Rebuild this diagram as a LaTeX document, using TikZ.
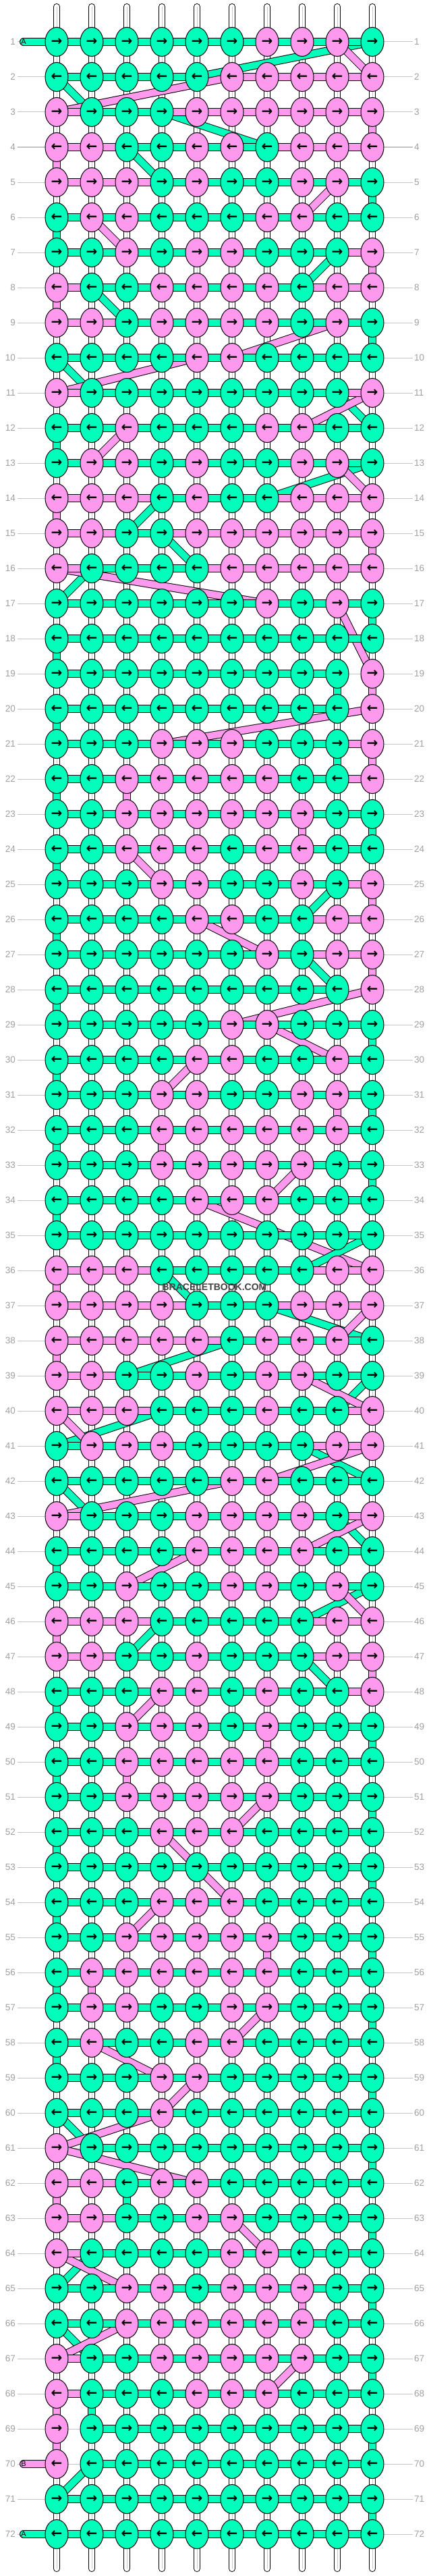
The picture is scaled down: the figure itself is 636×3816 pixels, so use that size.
\documentclass[tikz,border=0pt]{standalone}
\usepackage{fontspec}
\setsansfont{Liberation Sans}
\newfontfamily\arrowfont{DejaVu Sans}
\usepackage{tikz}
\usetikzlibrary{shapes.geometric}
\usetikzlibrary{positioning}

\definecolor{kG}{HTML}{00FFBB}
\definecolor{kP}{HTML}{FF99EE}
\definecolor{rowline}{HTML}{C4C4C4}
\definecolor{numgray}{HTML}{A0A0A0}
\newcommand\rarr{→}
\newcommand\larr{←}

\pgfdeclarelayer{bg}
\pgfdeclarelayer{cross}
\pgfdeclarelayer{bars}
\pgfsetlayers{bg,cross,bars,main}

\begin{document}
\begin{tikzpicture}[x=1pt,y=-1pt,
  knot/.style={ellipse,draw,line width=1pt,minimum width=34pt,minimum height=43pt,inner sep=0pt,
    font=\arrowfont\bfseries\fontsize{20}{20}\selectfont},
  strand/.style={draw=black,line width=12pt,postaction={draw=#1,line width=10pt}},
  tube/.style={draw=black,line width=10pt,line cap=round,
    postaction={draw=white,line width=8pt},postaction={draw=black!22,line width=1pt}},
  guide/.style={draw=rowline,line width=1pt},
  numlbl/.style={text=numgray,inner sep=2.5pt,font=\sffamily\fontsize{13.5}{14}\selectfont},
  endlbl/.style={inner sep=0pt,font=\sffamily\fontsize{11}{11}\selectfont},
  wmark/.style={text=black!75,font=\sffamily\bfseries\fontsize{14}{14}\selectfont}]

  \useasboundingbox (0,0) rectangle (636,3816);
  \begin{pgfonlayer}{bg}
    \fill[white] (0,0) rectangle (636,3816);
  \end{pgfonlayer}

  \foreach \kr/\kn/\kb in {
    1/{G,G,G,G,G,G,P,P,P,G}/{G,G,G,G,G,G,G,G,G},
    2/{G,G,G,G,G,P,P,P,P,P}/{G,G,G,G,-,P,P,P,P},
    3/{P,G,G,G,P,P,P,P,P,P}/{P,G,G,P,P,P,P,P,P},
    4/{P,P,G,G,P,P,G,P,P,P}/{P,P,G,G,G,G,P,P,P},
    5/{P,P,P,G,P,G,G,P,P,G}/{P,P,P,G,G,G,G,G,G},
    6/{G,P,P,G,G,G,P,P,G,G}/{G,G,G,G,G,G,G,G,G},
    7/{G,G,P,G,P,P,G,G,G,P}/{G,G,G,G,G,G,G,G,P},
    8/{P,G,G,P,P,P,P,G,P,P}/{P,G,G,G,G,G,G,P,P},
    9/{P,P,G,P,P,P,P,G,P,G}/{P,P,G,G,G,G,G,G,G},
    10/{G,G,G,G,P,P,G,G,G,G}/{G,G,G,G,G,G,G,G,G},
    11/{P,G,G,G,G,G,G,G,G,P}/{P,G,G,G,G,G,G,G,P},
    12/{G,G,P,G,G,G,P,P,G,G}/{G,G,G,G,G,G,G,G,G},
    13/{G,P,P,G,P,G,G,P,P,G}/{G,G,G,G,G,G,G,G,G},
    14/{P,P,P,G,P,G,G,P,P,P}/{P,P,P,G,G,G,P,P,P},
    15/{P,P,G,G,P,P,P,P,P,P}/{P,P,G,P,P,P,P,P,P},
    16/{P,G,G,G,G,P,P,P,P,P}/{P,G,G,G,P,P,P,P,P},
    17/{G,G,G,G,G,G,P,G,P,G}/{G,G,G,G,G,G,G,G,G},
    18/{G,G,G,G,G,G,G,G,G,G}/{G,G,G,G,G,G,G,G,G},
    19/{G,G,G,G,G,G,G,G,G,P}/{G,G,G,G,G,G,G,G,-},
    20/{G,G,G,G,G,G,G,G,G,P}/{G,G,G,G,G,G,G,G,-},
    21/{G,G,G,P,P,P,G,G,G,P}/{G,G,G,G,G,G,G,G,P},
    22/{G,G,P,P,P,P,P,G,G,P}/{G,G,G,G,G,G,G,G,P},
    23/{G,G,P,P,P,P,P,P,G,G}/{G,G,G,G,G,G,G,G,G},
    24/{G,G,P,P,P,G,P,P,G,G}/{G,G,G,G,G,G,G,G,G},
    25/{G,G,G,P,P,G,G,P,G,P}/{G,G,G,G,G,G,G,G,P},
    26/{G,G,G,G,P,P,G,G,P,P}/{G,G,G,G,G,G,G,P,P},
    27/{G,G,G,G,G,G,P,G,P,P}/{G,G,G,G,G,G,G,P,P},
    28/{G,G,G,G,G,G,G,G,G,P}/{G,G,G,G,G,G,G,G,-},
    29/{G,G,G,G,G,P,P,G,G,G}/{G,G,G,G,G,G,G,G,G},
    30/{G,G,G,G,P,P,G,G,P,G}/{G,G,G,G,G,G,G,G,G},
    31/{G,G,G,P,P,G,G,P,P,G}/{G,G,G,G,G,G,G,G,G},
    32/{G,G,G,P,P,P,P,P,P,G}/{G,G,G,G,G,G,G,G,G},
    33/{G,G,G,P,P,P,P,P,G,G}/{G,G,G,G,G,G,G,G,G},
    34/{G,G,G,G,P,P,P,G,G,G}/{G,G,G,G,G,G,G,G,G},
    35/{G,G,G,G,G,G,G,G,G,G}/{G,G,G,G,G,G,G,G,G},
    36/{P,P,P,G,G,G,G,G,P,P}/{P,P,P,G,G,G,G,P,P},
    37/{P,P,P,P,G,G,G,P,P,P}/{P,P,P,P,G,G,P,P,P},
    38/{P,P,P,P,P,G,P,P,P,G}/{P,P,P,P,P,G,G,G,G},
    39/{P,P,G,G,P,G,P,P,G,G}/{P,P,G,G,G,G,G,G,G},
    40/{P,P,P,G,G,G,P,G,G,P}/{P,P,P,G,G,G,G,G,P},
    41/{G,P,P,P,G,G,G,G,P,P}/{G,G,G,G,G,G,G,P,P},
    42/{G,G,G,G,G,P,P,G,G,G}/{G,G,G,G,G,G,G,G,G},
    43/{P,G,G,G,P,P,P,P,G,P}/{P,G,G,G,G,G,G,G,P},
    44/{G,G,G,G,P,P,P,P,G,G}/{G,G,G,G,G,G,G,G,G},
    45/{G,G,P,G,G,P,P,G,P,G}/{G,G,G,G,G,G,G,G,G},
    46/{P,P,P,G,G,G,G,G,P,P}/{P,P,P,G,G,G,G,P,P},
    47/{P,P,G,G,P,G,G,G,P,P}/{P,P,G,G,G,G,G,P,P},
    48/{G,G,G,P,P,G,P,G,G,P}/{G,G,G,G,G,G,G,G,P},
    49/{G,G,P,P,P,G,P,G,G,G}/{G,G,G,G,G,G,G,G,G},
    50/{G,G,P,P,P,P,P,G,G,G}/{G,G,G,G,G,G,G,G,G},
    51/{G,G,P,P,P,P,P,G,G,G}/{G,G,G,G,G,G,G,G,G},
    52/{G,G,G,P,P,P,G,G,G,G}/{G,G,G,G,G,G,G,G,G},
    53/{G,G,G,G,G,G,G,G,G,G}/{G,G,G,G,G,G,G,G,G},
    54/{G,G,G,P,P,P,G,G,G,G}/{G,G,G,G,G,G,G,G,G},
    55/{G,G,P,P,P,P,P,G,G,G}/{G,G,G,G,G,G,G,G,G},
    56/{G,P,P,P,P,P,P,G,G,G}/{G,G,G,G,G,G,G,G,G},
    57/{G,P,P,G,G,P,P,G,G,G}/{G,G,G,G,G,G,G,G,G},
    58/{G,P,G,G,P,P,G,G,G,G}/{G,G,G,G,G,G,G,G,G},
    59/{G,G,G,P,P,G,G,G,G,G}/{G,G,G,G,G,G,G,G,G},
    60/{G,G,G,P,G,G,G,G,G,G}/{G,G,G,G,G,G,G,G,G},
    61/{P,G,G,G,G,G,G,G,G,G}/{-,G,G,G,G,G,G,G,G},
    62/{P,P,G,P,P,G,G,G,G,G}/{P,P,G,G,G,G,G,G,G},
    63/{P,P,G,G,P,P,G,G,G,G}/{P,P,G,G,G,G,G,G,G},
    64/{P,G,G,G,G,P,P,G,G,G}/{P,G,G,G,G,G,G,G,G},
    65/{G,G,P,P,G,P,P,P,G,G}/{G,G,G,G,G,G,G,G,G},
    66/{G,G,P,P,P,P,P,P,G,G}/{G,G,G,G,G,G,G,G,G},
    67/{P,G,G,P,P,P,P,P,G,G}/{P,G,G,G,G,G,G,G,G},
    68/{P,G,G,G,P,P,P,G,G,G}/{P,G,G,G,G,G,G,G,G},
    69/{P,G,G,G,G,G,G,G,G,G}/{-,G,G,G,G,G,G,G,G},
    70/{P,G,G,G,G,G,G,G,G,G}/{-,G,G,G,G,G,G,G,G},
    71/{G,G,G,G,G,G,G,G,G,G}/{G,G,G,G,G,G,G,G,G},
    72/{G,G,G,G,G,G,G,G,G,G}/{G,G,G,G,G,G,G,G,G}}{
    \foreach \kcl [count=\kc] in \kn
      \node[knot,fill=k\kcl] (k\kr-\kc) at (52*\kc+32,52*\kr+10) {\ifodd\kr\relax\rarr\else\larr\fi};
    \node[numlbl,left=41pt of k\kr-1] (ll\kr) {\kr};
    \node[numlbl,right=42pt of k\kr-10] (rl\kr) {\kr};
    \begin{pgfonlayer}{bars}
      \foreach \kcl [count=\kc] in \kb {
        \if\kcl-\else
          \pgfmathtruncatemacro\kd{\kc+1}
          \draw[strand=k\kcl] (k\kr-\kc.center) -- (k\kr-\kd.center);
        \fi}
    \end{pgfonlayer}
    \begin{pgfonlayer}{bg}
      \draw[guide] (ll\kr) -- (rl\kr);
    \end{pgfonlayer}
  }

  \begin{pgfonlayer}{bg}
    \foreach \kc in {1,...,10} {
      \coordinate (top\kc) at (52*\kc+32,10);
      \coordinate (bot\kc) at (52*\kc+32,3805);
      \draw[tube] (top\kc) -- (bot\kc);
    }
  \end{pgfonlayer}

  \node[endlbl] (endA) at (35,62) {A};
  \node[endlbl] (endB) at (35,3650) {B};
  \node[endlbl] (endA2) at (35,3754) {A};

  \begin{pgfonlayer}{cross}
    \draw[strand=kG,line cap=round] (endA.center) -- (k1-1.center);
    \draw[strand=kP,line cap=round] (endB.center) -- (k70-1.center);
    \draw[strand=kG,line cap=round] (endA2.center) -- (k72-1.center);
    \foreach \ra/\ca/\rb/\cb/\kcl in {
      1/10/2/5/G, 1/9/2/10/P, 2/1/3/2/G, 2/6/3/1/P, 3/4/4/7/G, 3/10/4/10/P,
      4/3/5/4/G, 4/1/5/1/P, 5/10/6/10/G, 5/9/6/8/P, 6/1/7/1/G, 6/2/7/3/P,
      7/9/8/8/G, 7/10/8/10/P, 8/2/9/3/G, 8/1/9/1/P, 9/10/10/10/G, 9/9/10/6/P,
      10/1/11/2/G, 10/5/11/1/P, 11/9/12/10/G, 11/10/12/8/P, 12/1/13/1/G, 12/3/13/2/P,
      13/10/14/7/G, 13/9/14/10/P, 14/4/15/3/G, 14/1/15/1/P, 15/4/16/5/G, 15/10/16/10/P,
      16/2/17/1/G, 16/1/17/7/P, 17/10/18/10/G, 17/9/19/10/P, 18/1/19/1/G,
      19/9/20/9/G, 19/10/20/10/P, 20/1/21/1/G, 20/10/21/4/P, 21/9/22/9/G, 21/10/22/10/P,
      22/1/23/1/G, 22/3/23/3/P, 23/10/24/10/G, 23/8/24/8/P, 24/1/25/1/G, 24/3/25/4/P,
      25/9/26/8/G, 25/10/26/10/P, 26/1/27/1/G, 26/5/27/7/P, 27/8/28/9/G, 27/10/28/10/P,
      28/1/29/1/G, 28/10/29/6/P, 29/10/30/10/G, 29/7/30/9/P, 30/1/31/1/G, 30/5/31/4/P,
      31/10/32/10/G, 31/9/32/9/P, 32/1/33/1/G, 32/4/33/4/P, 33/10/34/10/G, 33/8/34/7/P,
      34/1/35/1/G, 34/5/36/10/P, 35/10/36/8/G, 36/4/37/5/G, 36/1/37/1/P,
      37/7/38/10/G, 37/10/38/9/P, 38/6/39/3/G, 38/1/39/1/P, 39/10/40/9/G, 39/8/40/10/P,
      40/4/41/1/G, 40/1/41/2/P, 41/8/42/10/G, 41/10/42/7/P, 42/1/43/2/G, 42/6/43/1/P,
      43/9/44/10/G, 43/10/44/8/P, 44/1/45/1/G, 44/5/45/3/P, 45/10/46/8/G, 45/9/46/10/P,
      46/4/47/3/G, 46/1/47/1/P, 47/8/48/9/G, 47/10/48/10/P, 48/1/49/1/G, 48/4/49/3/P,
      49/10/50/10/G, 49/7/50/7/P, 50/1/51/1/G, 50/3/51/3/P, 51/10/52/10/G, 51/7/52/6/P,
      52/1/53/1/G, 52/4/54/6/P, 53/10/54/10/G, 54/1/55/1/G, 54/4/55/3/P,
      55/10/56/10/G, 55/7/56/7/P, 56/1/57/1/G, 56/2/57/2/P, 57/10/58/10/G, 57/7/58/6/P,
      58/1/59/1/G, 58/2/59/4/P, 59/10/60/10/G, 59/5/60/4/P, 60/1/61/2/G, 60/4/61/1/P,
      61/10/62/10/G, 61/1/62/5/P, 62/3/63/3/G, 62/1/63/1/P, 63/10/64/10/G, 63/6/64/7/P,
      64/2/65/1/G, 64/1/65/3/P, 65/10/66/10/G, 65/8/66/8/P, 66/1/67/2/G, 66/3/67/1/P,
      67/10/68/10/G, 67/8/68/7/P, 68/2/69/2/G, 68/1/69/1/P, 69/10/70/10/G, 69/1/70/1/P,
      70/2/71/1/G, 71/10/72/10/G}
      \draw[strand=k\kcl] (k\ra-\ca.center) -- (k\rb-\cb.center);
  \end{pgfonlayer}

  \node[wmark] (wm) at (318,1907) {BRACELETBOOK.COM};

\end{tikzpicture}
\end{document}
